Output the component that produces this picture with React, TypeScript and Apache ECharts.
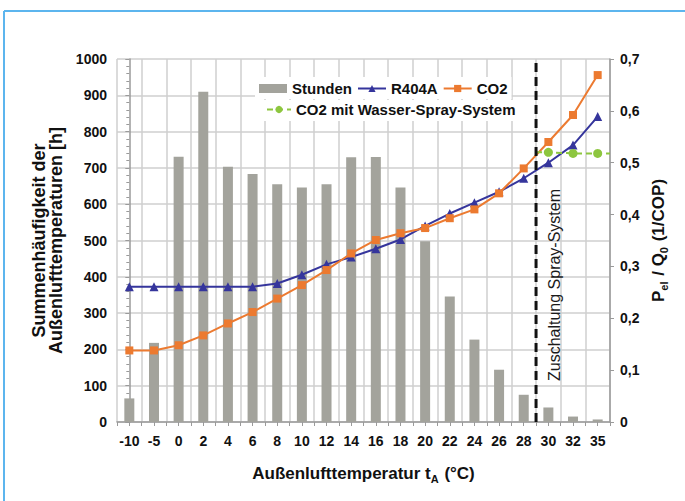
import React, { useEffect, useRef } from "react";
import * as echarts from "echarts";

const categories = ["-10", "-5", "0", "2", "4", "6", "8", "10", "12", "14", "16", "18", "20", "22", "24", "26", "28", "30", "32", "35"];
const stunden = [65, 218, 731, 910, 703, 683, 655, 646, 655, 729, 730, 646, 498, 346, 227, 144, 75, 40, 15, 7];
const r404a = [0.261, 0.261, 0.261, 0.261, 0.261, 0.261, 0.267, 0.284, 0.304, 0.318, 0.334, 0.352, 0.378, 0.402, 0.423, 0.444, 0.47, 0.5, 0.534, 0.589];
const co2 = [0.138, 0.138, 0.148, 0.167, 0.19, 0.212, 0.238, 0.264, 0.293, 0.325, 0.351, 0.364, 0.374, 0.393, 0.41, 0.441, 0.489, 0.54, 0.592, 0.669];
// spray system series on the index axis (category index units); first/last points are line ends without markers
const sprayX = [16.5, 17, 18, 19, 19.5];
const sprayY = [0.52, 0.52, 0.518, 0.518, 0.518];
const sprayMarker = [false, true, true, true, false];
// switch-on boundary between 28 and 30 °C (index units)
const switchX = 16.5;
const switchY = [0, 0.7];

const FONT = "Liberation Sans, Arial, sans-serif";

export default function App() {
  const ref = useRef<HTMLDivElement>(null);
  useEffect(() => {
    if (!ref.current) return;
    const chart = echarts.init(ref.current, null, { renderer: "svg" });
    const gridColor = "#cfcfcf";
    const axisColor = "#9a9a9a";
    chart.setOption({
      animation: false,
      textStyle: { fontFamily: FONT },
      grid: { left: 117, right: 75, top: 59, bottom: 79, containLabel: false },
      legend: [
        {
          left: 255,
          top: 77,
          padding: [4, 4, 3, 4],
          backgroundColor: "#fff",
          itemWidth: 28,
          itemHeight: 9,
          itemGap: 5,
          textStyle: { fontSize: 15, fontWeight: "bold", color: "#111", fontFamily: FONT },
          data: [{ name: "Stunden", icon: "rect" }, "R404A", "CO2"],
        },
        {
          left: 262,
          top: 100,
          padding: [2, 4, 4, 4],
          backgroundColor: "#fff",
          itemWidth: 24,
          itemHeight: 9,
          textStyle: { fontSize: 15, fontWeight: "bold", color: "#111", fontFamily: FONT },
          data: ["CO2 mit Wasser-Spray-System"],
        },
      ],
      xAxis: [
        {
          type: "category",
          data: categories,
          axisLine: { show: true, lineStyle: { color: axisColor, width: 1.5 } },
          axisTick: { show: false },
          splitLine: { show: true, interval: 0, lineStyle: { color: gridColor, width: 1.5 } },
          axisLabel: { interval: 0, fontSize: 14, fontWeight: "bold", color: "#111", margin: 12, fontFamily: FONT },
          name: "{b|Außenlufttemperatur t}{s|A}{b| (°C)}",
          nameLocation: "middle",
          nameGap: 40,
          nameTextStyle: {
            rich: {
              b: { fontSize: 17, fontWeight: "bold", color: "#111", fontFamily: FONT, lineHeight: 22, verticalAlign: "middle" },
              s: { fontSize: 11, fontWeight: "bold", color: "#111", fontFamily: FONT, lineHeight: 22, verticalAlign: "bottom", padding: [8, 1, 0, 0] },
            },
          },
        },
        {
          type: "value",
          min: -0.5,
          max: 19.5,
          interval: 0.5,
          position: "bottom",
          axisLine: { show: false },
          axisLabel: { show: false },
          splitLine: { show: false },
          axisTick: { show: true, length: 4, lineStyle: { color: axisColor, width: 1 } },
        },
      ],
      yAxis: [
        {
          type: "value",
          min: 0,
          max: 1000,
          interval: 100,
          axisLine: { show: true, lineStyle: { color: axisColor, width: 1.5 } },
          axisTick: { show: true, length: 4, lineStyle: { color: axisColor } },
          minorTick: { show: true, splitNumber: 5, length: 3, lineStyle: { color: axisColor } },
          splitLine: { show: true, lineStyle: { color: gridColor, width: 1.5 } },
          axisLabel: {
            fontSize: 14,
            fontWeight: "bold",
            color: "#111",
            margin: 10,
            fontFamily: FONT,
            formatter: (v: number) => String(v),
          },
          name: "Summenhäufigkeit der\nAußenlufttemperaturen [h]",
          nameLocation: "middle",
          nameRotate: 90,
          nameGap: 51,
          nameTextStyle: { fontSize: 18, fontWeight: "bold", color: "#111", lineHeight: 17, fontFamily: FONT },
        },
        {
          type: "value",
          min: 0,
          max: 0.7,
          interval: 0.1,
          position: "right",
          axisLine: { show: true, lineStyle: { color: axisColor, width: 1.5 } },
          axisTick: { show: true, length: 4, lineStyle: { color: axisColor } },
          splitLine: { show: false },
          axisLabel: {
            fontSize: 14,
            fontWeight: "bold",
            color: "#111",
            margin: 10,
            fontFamily: FONT,
            formatter: (v: number) => (v === 0 ? "0" : v.toFixed(1).replace(".", ",")),
          },
          name: "{b|P}{s|el}{b| / Q}{s|0}{b| (1/COP)}",
          nameLocation: "middle",
          nameRotate: 90,
          nameGap: 37,
          nameTextStyle: {
            rich: {
              b: { fontSize: 17, fontWeight: "bold", color: "#111", fontFamily: FONT, lineHeight: 22, verticalAlign: "middle" },
              s: { fontSize: 11, fontWeight: "bold", color: "#111", fontFamily: FONT, lineHeight: 22, verticalAlign: "bottom", padding: [8, 1, 0, 0] },
            },
          },
        },
      ],
      series: [
        {
          name: "Stunden",
          type: "bar",
          xAxisIndex: 0,
          yAxisIndex: 0,
          data: stunden,
          barWidth: 10,
          itemStyle: { color: "#a3a39c" },
          z: 2,
        },
        {
          name: "R404A",
          type: "line",
          xAxisIndex: 0,
          yAxisIndex: 1,
          data: r404a,
          symbol: "triangle",
          symbolSize: 9,
          itemStyle: { color: "#35359c" },
          lineStyle: { color: "#35359c", width: 2 },
          z: 4,
        },
        {
          name: "CO2",
          type: "line",
          xAxisIndex: 0,
          yAxisIndex: 1,
          data: co2,
          symbol: "rect",
          symbolSize: 8,
          itemStyle: { color: "#ec7a30" },
          lineStyle: { color: "#ec7a30", width: 2 },
          z: 5,
        },
        {
          name: "CO2 mit Wasser-Spray-System",
          type: "line",
          xAxisIndex: 1,
          yAxisIndex: 1,
          data: sprayX.map((x, i) => ({ value: [x, sprayY[i]], symbol: sprayMarker[i] ? "circle" : "none" })),
          symbol: "circle",
          symbolSize: 9,
          itemStyle: { color: "#8dc63f" },
          lineStyle: { color: "#8dc63f", width: 2, type: [6, 4] },
          z: 6,
        },
        {
          name: "Zuschaltung",
          type: "line",
          xAxisIndex: 1,
          yAxisIndex: 1,
          data: switchY.map((y) => [switchX, y]),
          symbol: "none",
          lineStyle: { color: "#111", width: 3, type: [9, 5] },
          z: 7,
        },
      ],
      graphic: [
        { type: "line", shape: { x1: 4, y1: 11, x2: 685, y2: 11 }, style: { stroke: "#5cb5ee", lineWidth: 2 } },
        { type: "line", shape: { x1: 4, y1: 11, x2: 4, y2: 501 }, style: { stroke: "#5cb5ee", lineWidth: 2 } },
        {
          type: "text",
          x: 554,
          y: 285,
          rotation: Math.PI / 2,
          z: 10,
          style: {
            text: "Zuschaltung Spray-System",
            fontSize: 16,
            fontFamily: FONT,
            fill: "#1a1a1a",
            align: "center",
            verticalAlign: "middle",
          },
        },
      ],
    });
    return () => chart.dispose();
  }, []);
  return <div ref={ref} style={{ position: "fixed", left: 0, top: 0, width: 685, height: 501, background: "#fff" }} />;
}
